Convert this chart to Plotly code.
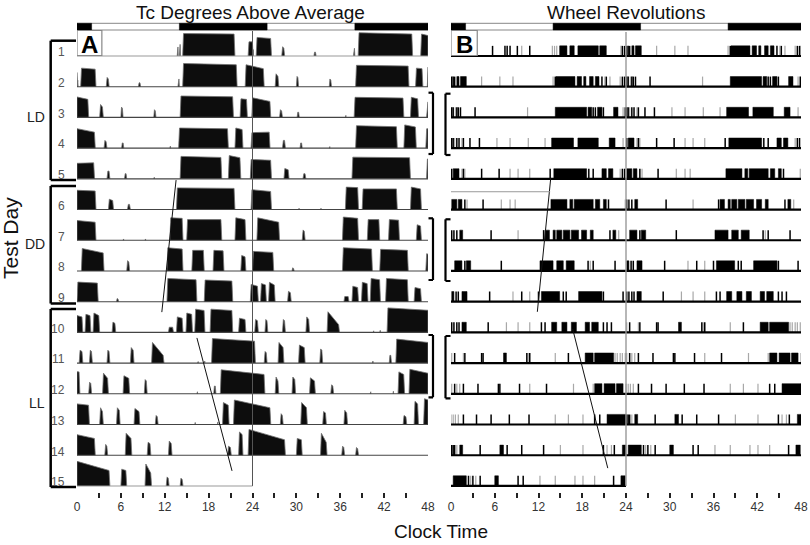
import plotly.graph_objects as go

# ---------------------------------------------------------------- data
HOUR_TICKS = [0, 6, 12, 18, 24, 30, 36, 42, 48]
TEST_DAYS = list(range(1, 16))
LIGHT_DARK = [(0, 2, "dark"), (2, 14, "light"), (14, 26, "dark"), (26, 38, "light"), (38, 48, "dark")]
PHASES = [("LD", 1, 5), ("DD", 6, 9), ("LL", 10, 15)]

# Tc degrees above average: bouts per test day (start h, end h, rel. height at start, at end)
TC_D01 = [(13.7, 13.85, .35, .35), (14.0, 14.15, .45, .45), (14.45, 21.6, .87, .85), (23.4, 24.1, .55, .55)]
TC_D02 = [(0.0, 0.15, .25, .25), (0.5, 2.6, .72, .68), (4.0, 4.4, .36, .3), (8.4, 8.7, .15, .15),
          (13.8, 14.0, .3, .3), (14.45, 21.9, .9, .85), (23.0, 25.6, .85, .7)]
TC_D03 = [(3.1, 3.6, .5, .4), (6.0, 6.3, .4, .35), (10.5, 10.8, .3, .25), (14.1, 21.4, .83, .8),
          (22.3, 23.3, .72, .7), (23.9, 26.5, .76, .62)]
TC_D04 = [(3.7, 4.1, .3, .25), (6.1, 6.4, .2, .2), (12.7, 12.8, .08, .08), (13.9, 20.7, .78, .75),
          (21.6, 22.7, .78, .72), (23.8, 26.4, .6, .62)]
TC_D05 = [(4.1, 4.5, .3, .3), (6.5, 6.8, .2, .2), (10.5, 10.6, .06, .06), (14.1, 19.8, .87, .83),
          (20.7, 22.4, .9, .82), (23.7, 26.6, .75, .72)]
TC_D06 = [(4.3, 5.0, .4, .35), (6.9, 7.3, .2, .2), (13.6, 21.6, .84, .82), (23.8, 26.6, .77, .7)]
TC_D07 = [(6.3, 6.4, .05, .05), (9.3, 9.4, .05, .05), (12.7, 14.5, .87, .85), (15.0, 19.8, .8, .8),
          (21.6, 23.1, .87, .8), (24.6, 27.7, .87, .7)]
TC_D08 = [(6.8, 7.2, .4, .35), (12.3, 14.5, .9, .85), (15.7, 17.4, .8, .8), (18.6, 20.1, .8, .78),
          (22.4, 23.1, .6, .55), (24.0, 26.9, .76, .72)]
TC_D09 = [(5.4, 5.7, .12, .1), (12.3, 16.4, .9, .85), (17.4, 21.3, .84, .8), (23.7, 24.8, .67, .6),
          (25.1, 25.9, .7, .65), (26.2, 27.1, .75, .65)]
TC_D10 = [(4.8, 5.3, .4, .35), (12.5, 13.2, .2, .2), (13.6, 14.5, .6, .55), (14.9, 15.8, .75, .7),
          (16.1, 17.5, .9, .85), (18.2, 21.3, .9, .85), (22.1, 23.1, .55, .5)]
TC_D11 = [(0.3, 0.8, .5, .45), (1.7, 2.1, .5, .45), (4.1, 4.5, .5, .45), (7.3, 7.8, .6, .5),
          (10.2, 11.9, .8, .3), (16.5, 16.6, .06, .06), (17.4, 17.5, .08, .08), (18.4, 24.4, .95, .85)]
TC_D12 = [(1.6, 2.0, .45, .4), (3.5, 4.3, .8, .6), (6.3, 7.2, .7, .6), (9.2, 9.6, .55, .5),
          (16.4, 16.5, .08, .08), (18.7, 19.0, .3, .3), (19.6, 25.7, .93, .75)]
TC_D13 = [(3.1, 3.6, .65, .5), (5.4, 5.9, .65, .55), (7.8, 8.6, .62, .5), (10.7, 11.1, .35, .3),
          (16.1, 16.2, .08, .08), (19.2, 19.3, .1, .1), (19.9, 20.8, .85, .75), (21.4, 26.5, .95, .65)]
TC_D14 = [(3.8, 4.2, .42, .35), (6.6, 7.5, .85, .65), (9.6, 10.1, .5, .45), (12.5, 13.0, .55, .45),
          (20.6, 21.1, .35, .3), (22.1, 22.7, .9, .8), (23.4, 28.5, 1.0, .6)]
TC_D15 = [(6.0, 6.8, .65, .6), (9.3, 10.2, .85, .5), (12.2, 12.6, .35, .3), (14.1, 14.5, .3, .25)]
TC_DAYS = [TC_D01, TC_D02, TC_D03, TC_D04, TC_D05, TC_D06, TC_D07, TC_D08,
           TC_D09, TC_D10, TC_D11, TC_D12, TC_D13, TC_D14, TC_D15]

# Wheel revolutions per test day: solid blocks (start h, end h), single black ticks, faint grey ticks
WH_BLOCKS_D01 = [(14.9, 15.9), (16.3, 16.9), (17.4, 20.2), (20.4, 21.3)]
WH_BLACK_D01 = [5.7, 7.4, 7.7, 8.1, 9.1, 10.8, 23.5, 23.8]
WH_GREY_D01 = [9.7, 13.9, 14.2, 14.5, 23.3]
WH_BLOCKS_D02 = [(0.8, 1.1), (1.3, 2.1), (14.4, 17.0), (17.3, 17.9), (18.2, 18.5), (19.0, 19.5), (19.8, 20.3)]
WH_BLACK_D02 = [0.1, 0.3, 0.5, 14.3, 20.7, 21.3, 23.5, 23.8]
WH_GREY_D02 = [4.2, 6.7, 8.5, 14.0, 21.1, 21.8, 23.2]
WH_BLOCKS_D03 = [(14.3, 18.6), (18.8, 19.3), (20.1, 20.7), (22.3, 22.9)]
WH_BLACK_D03 = [0.1, 0.3, 0.8, 1.0, 1.3, 3.3, 19.5, 19.8, 20.9, 23.9]
WH_GREY_D03 = [0.0, 0.6, 10.5, 23.6]
WH_BLOCKS_D04 = [(13.8, 16.8), (17.4, 20.2), (21.7, 22.5)]
WH_BLACK_D04 = [0.1, 0.3, 0.8, 1.1, 1.7, 2.6, 3.9]
WH_GREY_D04 = [0.5, 1.5, 6.3, 8.1, 10.6, 12.9, 23.6]
WH_BLOCKS_D05 = [(0.3, 1.1), (14.1, 18.6), (20.7, 21.3), (21.6, 22.2)]
WH_BLACK_D05 = [0.1, 1.7, 4.2, 6.6, 13.6, 18.9, 19.5, 23.5, 23.8]
WH_GREY_D05 = [1.5, 1.9, 8.1, 9.2, 10.8, 23.2]
WH_BLOCKS_D06 = [(0.1, 0.8), (1.0, 1.5), (13.7, 15.9), (16.3, 16.7), (16.9, 19.5), (19.8, 20.4), (20.9, 21.3)]
WH_BLACK_D06 = [1.9, 4.4, 21.6]
WH_GREY_D06 = [2.2, 6.9, 8.1, 8.8, 23.9]
WH_BLOCKS_D07 = [(1.2, 1.6), (12.9, 13.5), (14.0, 14.3), (14.5, 15.2), (15.4, 16.3), (16.5, 17.5),
                 (17.9, 18.6), (19.1, 19.5), (22.2, 22.6)]
WH_BLACK_D07 = [0.1, 0.4, 0.8, 5.5, 12.7, 21.8]
WH_GREY_D07 = [9.2, 23.0]
WH_BLOCKS_D08 = [(0.5, 1.5), (2.1, 2.7), (12.2, 14.0), (14.5, 15.4), (15.8, 16.9)]
WH_BLACK_D08 = [1.9, 6.9, 18.8, 19.5, 22.5]
WH_GREY_D08 = [19.1]
WH_BLOCKS_D09 = [(0.1, 0.4), (1.5, 2.2), (12.4, 14.9), (17.5, 20.7)]
WH_BLACK_D09 = [0.7, 1.0, 5.3, 9.7, 12.0, 15.4, 15.8, 20.9, 23.6]
WH_GREY_D09 = [8.5, 10.8]
WH_BLOCKS_D10 = [(1.5, 2.1), (13.8, 14.5), (15.2, 15.9), (16.5, 17.2), (18.4, 19.0), (19.3, 20.2)]
WH_BLACK_D10 = [0.1, 0.4, 0.8, 1.1, 5.1, 12.4, 12.9, 20.9, 21.4, 22.0]
WH_GREY_D10 = [7.6, 9.2, 10.8]
WH_BLOCKS_D11 = [(7.2, 7.6), (18.4, 19.5), (19.7, 22.3)]
WH_BLACK_D11 = [0.5, 1.9, 4.2, 4.4, 10.4, 10.8, 16.1]
WH_GREY_D11 = [0.1, 1.7, 10.6, 14.3, 22.5, 22.8, 23.2, 23.5, 23.9]
WH_BLOCKS_D12 = [(19.7, 20.7), (21.0, 22.5), (22.7, 23.6)]
WH_BLACK_D12 = [0.5, 1.7, 3.7, 6.5, 6.7, 9.4, 13.1]
WH_GREY_D12 = [0.1, 0.8, 1.2, 10.8, 16.8, 19.5]
WH_BLOCKS_D13 = [(21.4, 24.0)]
WH_BLACK_D13 = [1.7, 3.5, 5.5, 8.0, 10.7, 19.7, 20.4]
WH_GREY_D13 = [0.0, 0.3, 0.6, 1.0, 14.3, 16.1, 18.1]
WH_BLOCKS_D14 = [(1.2, 1.6), (6.7, 7.2), (23.5, 24.0)]
WH_BLACK_D14 = [0.1, 0.3, 0.5, 4.0, 7.7, 9.7, 12.7, 20.9, 22.4]
WH_GREY_D14 = [0.8, 15.0, 18.1, 21.4, 22.0]
WH_BLOCKS_D15 = [(0.3, 2.1), (6.0, 6.5), (23.3, 23.9)]
WH_BLACK_D15 = [2.4, 3.0, 4.0, 9.2, 9.9, 22.3]
WH_GREY_D15 = [2.7, 3.4, 12.2, 14.3, 17.0, 18.1, 19.7]

WH_BLOCKS = [WH_BLOCKS_D01, WH_BLOCKS_D02, WH_BLOCKS_D03, WH_BLOCKS_D04, WH_BLOCKS_D05,
             WH_BLOCKS_D06, WH_BLOCKS_D07, WH_BLOCKS_D08, WH_BLOCKS_D09, WH_BLOCKS_D10,
             WH_BLOCKS_D11, WH_BLOCKS_D12, WH_BLOCKS_D13, WH_BLOCKS_D14, WH_BLOCKS_D15]
WH_BLACK = [WH_BLACK_D01, WH_BLACK_D02, WH_BLACK_D03, WH_BLACK_D04, WH_BLACK_D05,
            WH_BLACK_D06, WH_BLACK_D07, WH_BLACK_D08, WH_BLACK_D09, WH_BLACK_D10,
            WH_BLACK_D11, WH_BLACK_D12, WH_BLACK_D13, WH_BLACK_D14, WH_BLACK_D15]
WH_GREY = [WH_GREY_D01, WH_GREY_D02, WH_GREY_D03, WH_GREY_D04, WH_GREY_D05,
           WH_GREY_D06, WH_GREY_D07, WH_GREY_D08, WH_GREY_D09, WH_GREY_D10,
           WH_GREY_D11, WH_GREY_D12, WH_GREY_D13, WH_GREY_D14, WH_GREY_D15]

# fitted activity-onset lines: (hour, test-day row) end points
ONSET_A = [([13.55, 11.6], [5.04, 9.34]), ([16.4, 21.2], [10.18, 14.51])]
ONSET_B = [([13.68, 11.84], [4.97, 9.33]), ([16.69, 21.5], [9.89, 14.42])]
B_GUIDE = ([0, 13.6], [5.42, 5.42])

# ---------------------------------------------------------------- layout geometry
W, H = 810, 545
A_X0, A_X1 = 77, 428
B_X0, B_X1 = 451, 801
ROW1_PX, ROW_STEP_PX = 56.0, 30.71
AXIS_PX = 497.7
N = len(TEST_DAYS)


def row_at(py):
    return 1 + (py - ROW1_PX) / ROW_STEP_PX


def px(x):
    return x / W


def py(y):
    return 1 - y / H


TC_FULL = 0.84   # row units for a full-height Tc bout
WH_FULL = 0.33   # row units for wheel marks
EDGE_H = 0.12    # drawn rise/fall width of a Tc bout edge (hours)
FONT = "Liberation Sans, Arial, Helvetica, sans-serif"

fig = go.Figure()


def window(row):
    w0 = 24 * (row - 1)
    w1 = w0 + (24 if row == N else 48)
    return w0, w1


# ---- panel A: Tc
for row in TEST_DAYS:
    w0, w1 = window(row)
    xs, ys = [], []
    for d, bouts in enumerate(TC_DAYS, start=1):
        off = 24 * (d - 1)
        for (s, e, h0, h1) in bouts:
            a, b = off + s, off + e
            cs, ce = max(a, w0), min(b, w1)
            if ce <= cs:
                continue
            hs = h0 + (h1 - h0) * (cs - a) / (b - a)
            he = h0 + (h1 - h0) * (ce - a) / (b - a)
            edge = min(EDGE_H, 0.3 * (b - a))
            rs = 0 if cs > a else edge   # sloped edge only where the bout really starts/ends
            re = 0 if ce < b else edge
            xs += [cs - w0, cs - w0 + rs, ce - w0 - re, ce - w0, None]
            ys += [row, row - hs * TC_FULL, row - he * TC_FULL, row, None]
    fig.add_trace(go.Scatter(x=xs, y=ys, fill="toself", mode="lines", fillcolor="#0d0d0d",
                             line=dict(color="#707070", width=0.8), xaxis="x", yaxis="y",
                             hoverinfo="skip", showlegend=False))

# baselines A
for row in TEST_DAYS:
    w0, w1 = window(row)
    col = "#999999" if row in (1, N) else "#444444"
    fig.add_trace(go.Scatter(x=[0, w1 - w0], y=[row, row], mode="lines",
                             line=dict(color=col, width=1.1), xaxis="x", yaxis="y",
                             hoverinfo="skip", showlegend=False))

# ---- panel B: wheel
for row in TEST_DAYS:
    w0, w1 = window(row)
    bx, by, kx, ky, gx, gy = [], [], [], [], [], []
    for d in TEST_DAYS:
        off = 24 * (d - 1)
        for (s, e) in WH_BLOCKS[d - 1]:
            cs, ce = max(off + s, w0), min(off + e, w1)
            if ce <= cs:
                continue
            bx += [cs - w0, cs - w0, ce - w0, ce - w0, None]
            by += [row, row - WH_FULL, row - WH_FULL, row, None]
        for t in WH_BLACK[d - 1]:
            if w0 <= off + t <= w1:
                kx += [off + t - w0, off + t - w0, None]
                ky += [row, row - WH_FULL, None]
        for t in WH_GREY[d - 1]:
            if w0 <= off + t <= w1:
                gx += [off + t - w0, off + t - w0, None]
                gy += [row, row - WH_FULL, None]
    fig.add_trace(go.Scatter(x=gx, y=gy, mode="lines", line=dict(color="#a8a8a8", width=1.2),
                             xaxis="x2", yaxis="y", hoverinfo="skip", showlegend=False))
    fig.add_trace(go.Scatter(x=kx, y=ky, mode="lines", line=dict(color="#000000", width=1.5),
                             xaxis="x2", yaxis="y", hoverinfo="skip", showlegend=False))
    fig.add_trace(go.Scatter(x=bx, y=by, fill="toself", mode="lines", fillcolor="#000000",
                             line=dict(color="#000000", width=0.5), xaxis="x2", yaxis="y",
                             hoverinfo="skip", showlegend=False))
    fig.add_trace(go.Scatter(x=[0, w1 - w0], y=[row, row], mode="lines",
                             line=dict(color="#000000", width=2.2), xaxis="x2", yaxis="y",
                             hoverinfo="skip", showlegend=False))

# 24-h reference lines
fig.add_trace(go.Scatter(x=[24, 24], y=[row_at(31), N], mode="lines", line=dict(color="#555555", width=1),
                         xaxis="x", yaxis="y", hoverinfo="skip", showlegend=False))
fig.add_trace(go.Scatter(x=[24, 24], y=[row_at(32), N], mode="lines", line=dict(color="#999999", width=1.4),
                         xaxis="x2", yaxis="y", hoverinfo="skip", showlegend=False))

# onset lines
for xs, ys in ONSET_A:
    fig.add_trace(go.Scatter(x=xs, y=ys, mode="lines", line=dict(color="#111111", width=1),
                             xaxis="x", yaxis="y", hoverinfo="skip", showlegend=False))
for xs, ys in ONSET_B:
    fig.add_trace(go.Scatter(x=xs, y=ys, mode="lines", line=dict(color="#111111", width=1),
                             xaxis="x2", yaxis="y", hoverinfo="skip", showlegend=False))
fig.add_trace(go.Scatter(x=B_GUIDE[0], y=B_GUIDE[1], mode="lines", line=dict(color="#999999", width=1),
                         xaxis="x2", yaxis="y", hoverinfo="skip", showlegend=False))

# ---------------------------------------------------------------- shapes
shapes = []
bar_y0, bar_y1 = row_at(23.3), row_at(30)
for xr in ("x", "x2"):
    shapes.append(dict(type="rect", xref=xr, yref="y", x0=0, x1=48, y0=bar_y0, y1=bar_y1,
                       fillcolor="white", line=dict(color="#888888", width=1)))
    for (s, e, kind) in LIGHT_DARK:
        if kind == "dark":
            shapes.append(dict(type="rect", xref=xr, yref="y", x0=s, x1=e, y0=bar_y0, y1=bar_y1,
                               fillcolor="black", line=dict(color="black", width=0.5)))

# panel letter boxes
shapes.append(dict(type="rect", xref="x", yref="y", x0=0, x1=3.4, y0=row_at(30.5), y1=row_at(55.5),
                   fillcolor="white", line=dict(color="#888888", width=1.2), layer="above"))
shapes.append(dict(type="rect", xref="x2", yref="y", x0=0, x1=3.6, y0=row_at(30.5), y1=row_at(55.5),
                   fillcolor="white", line=dict(color="#888888", width=1.2), layer="above"))


def bracket(xv, xt, ytop, ybot, width=2.5):
    out = []
    for (a, b, c, d) in [(xv, xv, ytop, ybot), (xv, xt, ytop, ytop), (xv, xt, ybot, ybot)]:
        out.append(dict(type="line", xref="paper", yref="y", x0=px(a), x1=px(b), y0=c, y1=d,
                        line=dict(color="black", width=width)))
    return out


# phase brackets left of panel A
shapes += bracket(50.7, 76, row_at(40.7), row_at(180))
shapes += bracket(50.7, 76, row_at(186), row_at(303.5))
shapes += bracket(50.7, 76, row_at(309), row_at(487))
# comparison brackets
for (y0, y1) in [(92.7, 154), (218.3, 280), (335, 397.3)]:
    shapes += bracket(433, 428.5, row_at(y0), row_at(y1), width=2.2)
    shapes += bracket(445.5, 450.5, row_at(y0 + 1), row_at(y1 + 1), width=2.2)

# ---------------------------------------------------------------- annotations
ann = []


def label(text, x, y, size, color="#111", **kw):
    d = dict(text=text, x=px(x), y=py(y), xref="paper", yref="paper", xanchor="center",
             yanchor="middle", showarrow=False, font=dict(family=FONT, size=size, color=color))
    d.update(kw)
    ann.append(d)


label("Tc Degrees Above Average", 250, 13, 19)
label("Wheel Revolutions", 626, 13, 19)
label("Test Day", 10, 238, 21, textangle=-90)
label("Clock Time", 441, 531, 19)
ann.append(dict(text="<b>A</b>", x=1.7, y=row_at(44.5), xref="x", yref="y", showarrow=False,
                xanchor="center", yanchor="middle", font=dict(family=FONT, size=24, color="#000")))
ann.append(dict(text="<b>B</b>", x=1.8, y=row_at(44.5), xref="x2", yref="y", showarrow=False,
                xanchor="center", yanchor="middle", font=dict(family=FONT, size=24, color="#000")))
phase_y = {"LD": 117, "DD": 244, "LL": 403}
for (name, r0, r1) in PHASES:
    label(name, 47, phase_y[name], 14, color="#222", xanchor="right")
for row in TEST_DAYS:
    ann.append(dict(text=str(row), x=px(67), xanchor="right", yanchor="middle", y=row - 0.12,
                    xref="paper", yref="y", showarrow=False,
                    font=dict(family=FONT, size=12, color="#555")))

axis_common = dict(range=[0, 48], tickmode="array", tickvals=HOUR_TICKS, ticktext=[str(t) for t in HOUR_TICKS],
                   ticks="inside", ticklen=5, tickwidth=2, tickcolor="#222", showgrid=False, zeroline=False,
                   showline=False, anchor="y", tickfont=dict(family=FONT, size=12, color="#333"),
                   minor=dict(tickvals=[h + 3 for h in HOUR_TICKS[:-1]], ticks="inside", ticklen=5,
                              tickwidth=2, tickcolor="#222", showgrid=False))

fig.update_layout(
    width=W, height=H, margin=dict(l=0, r=0, t=0, b=0, autoexpand=False),
    paper_bgcolor="white", plot_bgcolor="rgba(0,0,0,0)", showlegend=False,
    xaxis=dict(domain=[px(A_X0), px(A_X1)], **axis_common),
    xaxis2=dict(domain=[px(B_X0), px(B_X1)], **axis_common),
    yaxis=dict(domain=[(H - AXIS_PX) / H, 1], range=[row_at(AXIS_PX), row_at(0)], visible=False,
               showgrid=False, zeroline=False),
    shapes=shapes, annotations=ann,
)

fig.write_html("out.html", config={"displayModeBar": False, "staticPlot": True},
               post_script="document.body.style.margin='0';document.body.style.overflow='hidden';")
